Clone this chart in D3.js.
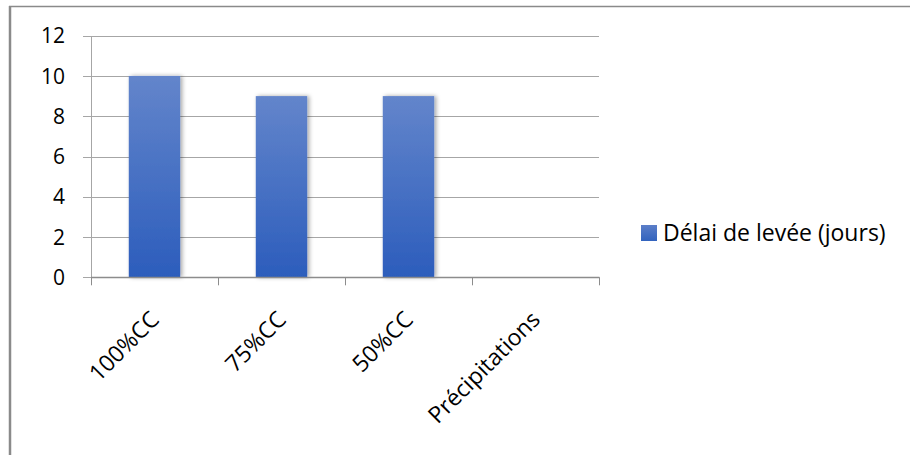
<!DOCTYPE html>
<html><head><meta charset="utf-8">
<script src="https://cdn.jsdelivr.net/npm/d3@7"></script>
<style>html,body{margin:0;padding:0;background:#fff;overflow:hidden}</style>
</head><body>
<svg id="chart" width="910" height="455"></svg>
<script>
const categories = ["100%CC", "75%CC", "50%CC", "Précipitations"];
const values = [10, 9, 9, null];
const yTicks = [0, 2, 4, 6, 8, 10, 12];
const seriesName = "Délai de levée (jours)";

const svg = d3.select("#chart");
const font = "'Open Sans', sans-serif";

// outer border
svg.append("line").attr("x1", 10).attr("x2", 10).attr("y1", 6).attr("y2", 460)
  .attr("stroke", "#8a8a8a").attr("stroke-width", 2.5);
svg.append("line").attr("x1", 9).attr("x2", 920).attr("y1", 6.5).attr("y2", 6.5)
  .attr("stroke", "#8a8a8a").attr("stroke-width", 1.5);

const defs = svg.append("defs");
const grad = defs.append("linearGradient").attr("id", "barGrad")
  .attr("x1", 0).attr("y1", 0).attr("x2", 0).attr("y2", 1);
grad.append("stop").attr("offset", "0%").attr("stop-color", "#6385cb");
grad.append("stop").attr("offset", "100%").attr("stop-color", "#2c5dbc");
const lgrad = defs.append("linearGradient").attr("id", "legGrad")
  .attr("x1", 0).attr("y1", 0).attr("x2", 0).attr("y2", 1);
lgrad.append("stop").attr("offset", "0%").attr("stop-color", "#5b7ec8");
lgrad.append("stop").attr("offset", "100%").attr("stop-color", "#3263be");
const shadow = defs.append("filter").attr("id", "shadow")
  .attr("x", "-30%").attr("y", "-10%").attr("width", "160%").attr("height", "120%");
shadow.append("feDropShadow").attr("dx", 2).attr("dy", 0).attr("stdDeviation", 2.2)
  .attr("flood-color", "#000").attr("flood-opacity", 0.35);

const x = d3.scaleBand().domain(categories).range([91, 599]).paddingInner(0).paddingOuter(0);
const y = d3.scaleLinear().domain([0, 12]).range([277.3, 35.7]);

// gridlines
svg.append("g").selectAll("line").data(yTicks).join("line")
  .attr("x1", 83).attr("x2", 599)
  .attr("y1", d => Math.round(y(d)) + 0.5).attr("y2", d => Math.round(y(d)) + 0.5)
  .attr("stroke", "#a6a6a6").attr("stroke-width", 1);

// y axis line
svg.append("line").attr("x1", 91.5).attr("x2", 91.5)
  .attr("y1", Math.round(y(12)) + 0.5).attr("y2", Math.round(y(0)) + 0.5)
  .attr("stroke", "#a6a6a6").attr("stroke-width", 1);

// y labels
svg.append("g").selectAll("text").data(yTicks).join("text")
  .attr("x", 65).attr("y", d => y(d))
  .attr("dy", "0.36em")
  .attr("text-anchor", "end")
  .attr("font-family", font).attr("font-size", 21).attr("fill", "#000")
  .text(d => d);

// bars
const bw = x.bandwidth() * 0.405;
svg.append("g").selectAll("rect").data(categories.map((c, i) => ({c, v: values[i]})).filter(d => d.v != null))
  .join("rect")
  .attr("x", d => x(d.c) + x.bandwidth() / 2 - bw / 2)
  .attr("width", bw)
  .attr("y", d => y(d.v))
  .attr("height", d => y(0) - y(d.v))
  .attr("fill", "url(#barGrad)")
  .attr("filter", "url(#shadow)");

// x axis
svg.append("line").attr("x1", 91).attr("x2", 599.5)
  .attr("y1", Math.round(y(0)) + 0.5).attr("y2", Math.round(y(0)) + 0.5)
  .attr("stroke", "#8c8c8c").attr("stroke-width", 1.3);
const bounds = categories.map(c => x(c)).concat([x.range()[1]]);
svg.append("g").selectAll("line").data(bounds).join("line")
  .attr("x1", d => Math.round(d) + 0.5).attr("x2", d => Math.round(d) + 0.5)
  .attr("y1", y(0)).attr("y2", y(0) + 8)
  .attr("stroke", "#8c8c8c").attr("stroke-width", 1);

// x labels
svg.append("g").selectAll("text").data(categories).join("text")
  .attr("transform", d => `translate(${x(d) + x.bandwidth() / 2 + 6},${321}) rotate(-45)`)
  .attr("text-anchor", "end")
  .attr("font-family", font).attr("font-size", 23).attr("fill", "#000")
  .text(d => d);

// legend
svg.append("rect").attr("x", 641).attr("y", 225).attr("width", 16).attr("height", 16)
  .attr("fill", "url(#legGrad)");
svg.append("text").attr("x", 663).attr("y", 241)
  .attr("font-family", font).attr("font-size", 23).attr("fill", "#000")
  .text(seriesName);
</script>
</body></html>
